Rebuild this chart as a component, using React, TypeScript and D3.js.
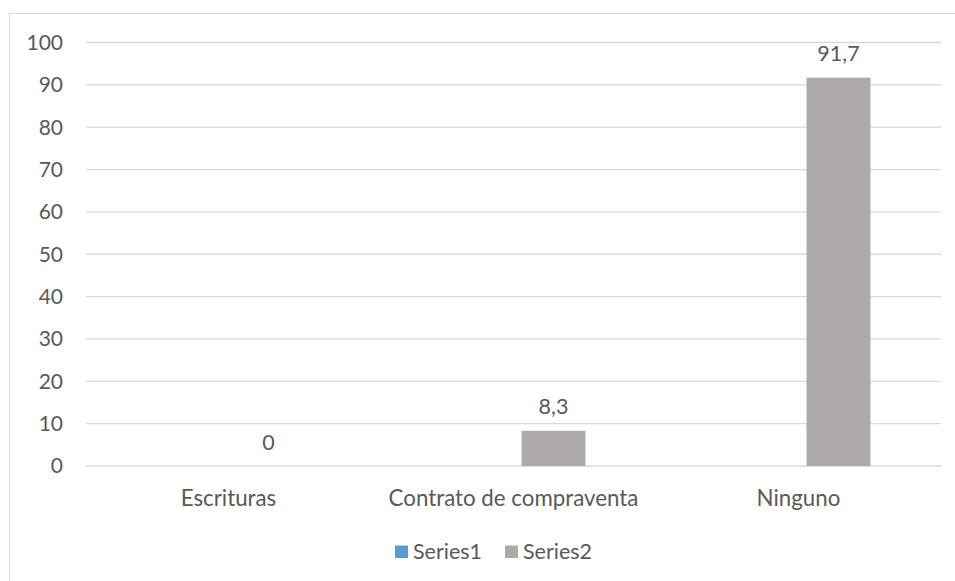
import React from "react";
import * as d3 from "d3";

const categories = ["Escrituras", "Contrato de compraventa", "Ninguno"];
const seriesNames = ["Series1", "Series2"];
const series1 = [0, 0, 0];
const series2 = [0, 8.3, 91.7];
const yTicks = [0, 10, 20, 30, 40, 50, 60, 70, 80, 90, 100];

const W = 955;
const H = 581;
const FONT = "Lato, 'Open Sans', sans-serif";
const TEXT = "#595959";
const GRID = "#d9d9d9";
const colors = ["#5b9bd5", "#aeaaaa"];

export default function App() {
  const x = d3.scaleBand<string>().domain(categories).range([86, 941]).padding(0);
  const inner = d3
    .scaleBand<string>()
    .domain(seriesNames)
    .range([70.5, 214.5])
    .paddingInner(0.2)
    .paddingOuter(0);
  const y = d3.scaleLinear().domain([0, 100]).range([466, 42.5]);
  const fmt = (v: number) => String(v).replace(".", ",");
  const data = [series1, series2];

  return (
    <svg
      width={W}
      height={H}
      style={{ position: "fixed", left: 0, top: 0, background: "#fff" }}
      fontFamily={FONT}
    >
      <rect x={0} y={0} width={W} height={H} fill="#fff" />
      <rect x={9.5} y={13.5} width={W + 10} height={H + 10} fill="none" stroke={GRID} strokeWidth={1} />
      {yTicks.map((t) => (
        <g key={t}>
          <line x1={86} x2={941} y1={y(t)} y2={y(t)} stroke={GRID} strokeWidth={1.3} />
          <text x={63} y={y(t)} dy="0.35em" textAnchor="end" fontSize={21} fill={TEXT}>
            {t}
          </text>
        </g>
      ))}
      {data.map((vals, si) =>
        vals.map((v, ci) => {
          const bx = (x(categories[ci]) as number) + (inner(seriesNames[si]) as number);
          const bw = inner.bandwidth();
          return (
            <rect
              key={`${si}-${ci}`}
              x={bx}
              y={y(v)}
              width={bw}
              height={Math.max(0, y(0) - y(v))}
              fill={colors[si]}
            />
          );
        })
      )}
      {series2.map((v, ci) => {
        const cx = (x(categories[ci]) as number) + (inner("Series2") as number) + inner.bandwidth() / 2;
        return (
          <text key={ci} x={cx} y={y(v) - 24} dy="0.35em" textAnchor="middle" fontSize={21.5} fill={TEXT}>
            {fmt(v)}
          </text>
        );
      })}
      {categories.map((c) => (
        <text
          key={c}
          x={(x(c) as number) + x.bandwidth() / 2}
          y={498}
          dy="0.35em"
          textAnchor="middle"
          fontSize={22.3}
          fill={TEXT}
        >
          {c}
        </text>
      ))}
      {seriesNames.map((s, i) => {
        const lx = i === 0 ? 395 : 505;
        return (
          <g key={s}>
            <rect x={lx} y={545.5} width={13} height={12.5} fill={colors[i]} />
            <text x={lx + 18} y={551.5} dy="0.35em" fontSize={21.5} fill={TEXT}>
              {s}
            </text>
          </g>
        );
      })}
    </svg>
  );
}
